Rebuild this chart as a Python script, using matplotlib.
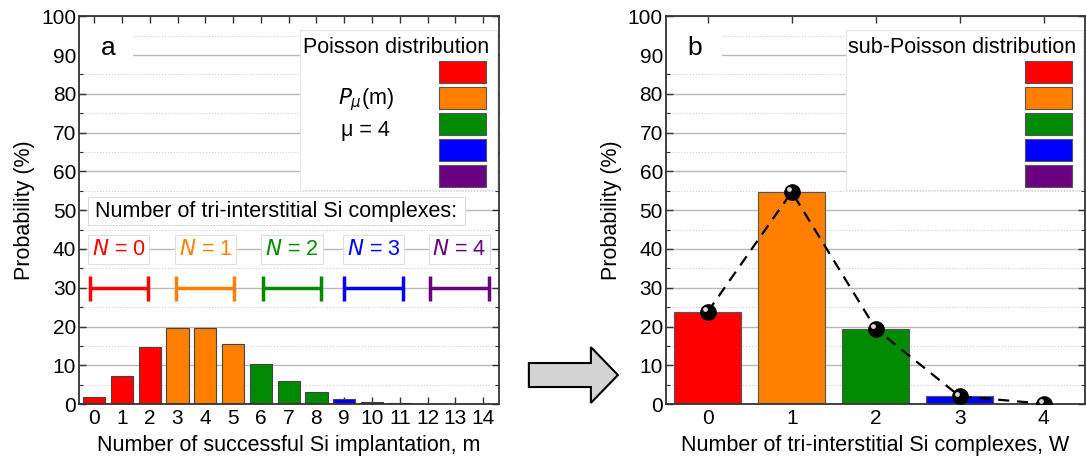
import matplotlib.pyplot as plt
from matplotlib.patches import Rectangle, FancyArrow
from matplotlib.ticker import MultipleLocator
import matplotlib.transforms as mtransforms

plt.rcParams['font.family'] = ['Liberation Sans', 'DejaVu Sans']
plt.rcParams['font.size'] = 15.5

# data
m_values = list(range(15))
poisson_prob = [1.8, 7.3, 14.7, 19.5, 19.5, 15.6, 10.4, 6.0, 3.0, 1.3, 0.5, 0.2, 0.06, 0.02, 0.005]
group_of_m = [0, 0, 0, 1, 1, 1, 2, 2, 2, 3, 3, 3, 4, 4, 4]
w_values = [0, 1, 2, 3, 4]
sub_poisson_prob = [23.8, 54.7, 19.4, 2.0, 0.1]
group_labels = ['0', '1', '2', '3', '4']
group_centers = [0.88, 4.0, 7.12, 10.06, 13.15]
group_half = 1.05
colors = ['#ff0000', '#ff8000', '#008a00', '#0000ff', '#6a007f']

FS = 15.5
TICK_FS = 15

fig = plt.figure(figsize=(10.86, 4.65), dpi=100)
ax1 = fig.add_axes([0.0727, 0.131, 0.3867, 0.834])
ax2 = fig.add_axes([0.613, 0.131, 0.386, 0.834])


def style_axis(ax):
    ax.set_ylim(0, 100)
    ax.yaxis.set_major_locator(MultipleLocator(10))
    ax.yaxis.set_minor_locator(MultipleLocator(5))
    ax.xaxis.set_major_locator(MultipleLocator(1))
    ax.tick_params(which='both', direction='in', top=True, right=True, labelsize=TICK_FS)
    ax.tick_params(which='major', length=5, width=1, color='#333333')
    ax.tick_params(which='minor', length=3, width=0.8, color='#333333')
    ax.tick_params(axis='x', which='minor', top=False, bottom=False)
    ax.tick_params(axis='y', pad=2)
    ax.grid(True, axis='y', which='major', color='#b8b8b8', lw=1)
    ax.grid(True, axis='y', which='minor', color='#d0d0d0', lw=0.8, ls=':')
    ax.set_axisbelow(True)
    for s in ax.spines.values():
        s.set_color('#333333')
        s.set_linewidth(1.3)
    ax.set_ylabel('Probability (%)', fontsize=FS, labelpad=4)


def legend_box(ax, title, x0, title_x):
    ax.add_patch(Rectangle((x0, 0.552), 0.995 - x0, 0.412, transform=ax.transAxes,
                           facecolor='white', edgecolor='#e6e6e6', lw=0.8, zorder=3))
    ax.text(title_x, 0.92, title, transform=ax.transAxes, ha='center', va='center',
            fontsize=FS, zorder=4)
    for i, c in enumerate(colors):
        top = 0.884 - i * 0.067
        ax.add_patch(Rectangle((0.857, top - 0.057), 0.112, 0.057, transform=ax.transAxes,
                               facecolor=c, edgecolor='#555555', lw=0.8, zorder=4))


def label_box(ax, s, x1):
    ax.add_patch(Rectangle((0, 0.86), x1, 0.11, transform=ax.transAxes,
                           facecolor='white', edgecolor='none', zorder=2))
    ax.text(0.07, 0.918, s, transform=ax.transAxes, ha='center', va='center',
            fontsize=19, zorder=4)


# panel a
style_axis(ax1)
ax1.bar(m_values, poisson_prob, width=0.8, color=[colors[g] for g in group_of_m],
        edgecolor='#444444', lw=0.8, zorder=2)
ax1.set_xlim(-0.55, 14.57)
ax1.set_xlabel('Number of successful Si implantation, m', fontsize=FS, labelpad=5)
label_box(ax1, 'a', 0.129)
legend_box(ax1, 'Poisson distribution', 0.526, 0.755)
ax1.text(0.683, 0.784, r'$P_{\mu}$(m)', transform=ax1.transAxes, ha='center', va='center',
         fontsize=FS, zorder=4)
ax1.text(0.683, 0.706, 'μ = 4', transform=ax1.transAxes, ha='center', va='center',
         fontsize=FS, zorder=4)
ax1.add_patch(Rectangle((0.021, 0.461), 0.898, 0.073, transform=ax1.transAxes,
                        facecolor='white', edgecolor='#dddddd', lw=0.8, zorder=3))
ax1.text(0.469, 0.497, 'Number of tri-interstitial Si complexes:', transform=ax1.transAxes,
         ha='center', va='center', fontsize=FS, zorder=4)
for c, col, lab in zip(group_centers, colors, group_labels):
    ax1.text(c, 39.8, r'$N$ = ' + lab, color=col, ha='center', va='center', fontsize=FS,
             zorder=4, bbox=dict(boxstyle='square,pad=0.18', facecolor='white',
                                 edgecolor='#e0e0e0', lw=0.8))
    ax1.errorbar(c, 30, xerr=group_half, color=col, lw=2.5, capsize=9, capthick=2.5,
                 zorder=4)

# panel b
style_axis(ax2)
ax2.bar(w_values, sub_poisson_prob, width=0.8, color=colors, edgecolor='#555555',
        lw=0.8, zorder=2)
ax2.plot(w_values, sub_poisson_prob, color='black', ls=(0, (5, 3.5)), lw=1.6, zorder=3)
ax2.plot(w_values, sub_poisson_prob, 'o', color='black', ms=11, zorder=4)
hl = mtransforms.offset_copy(ax2.transData, fig=fig, x=-1.8, y=1.8, units='points')
ax2.plot(w_values, sub_poisson_prob, 'o', color='#d8d8d8', ms=3.5, mew=0,
         transform=hl, zorder=5)
ax2.set_xlim(-0.5, 4.49)
ax2.set_xlabel('Number of tri-interstitial Si complexes, W', fontsize=FS, labelpad=5)
label_box(ax2, 'b', 0.135)
legend_box(ax2, 'sub-Poisson distribution', 0.43, 0.706)

# arrow between panels
fig.patches.append(FancyArrow(0.487, 0.1935, 0.082, 0, width=0.0516, head_width=0.12,
                              head_length=0.0249, length_includes_head=True,
                              transform=fig.transFigure, facecolor='#d3d3d3',
                              edgecolor='black', lw=1.5))

fig.savefig('out.png', dpi=100)
